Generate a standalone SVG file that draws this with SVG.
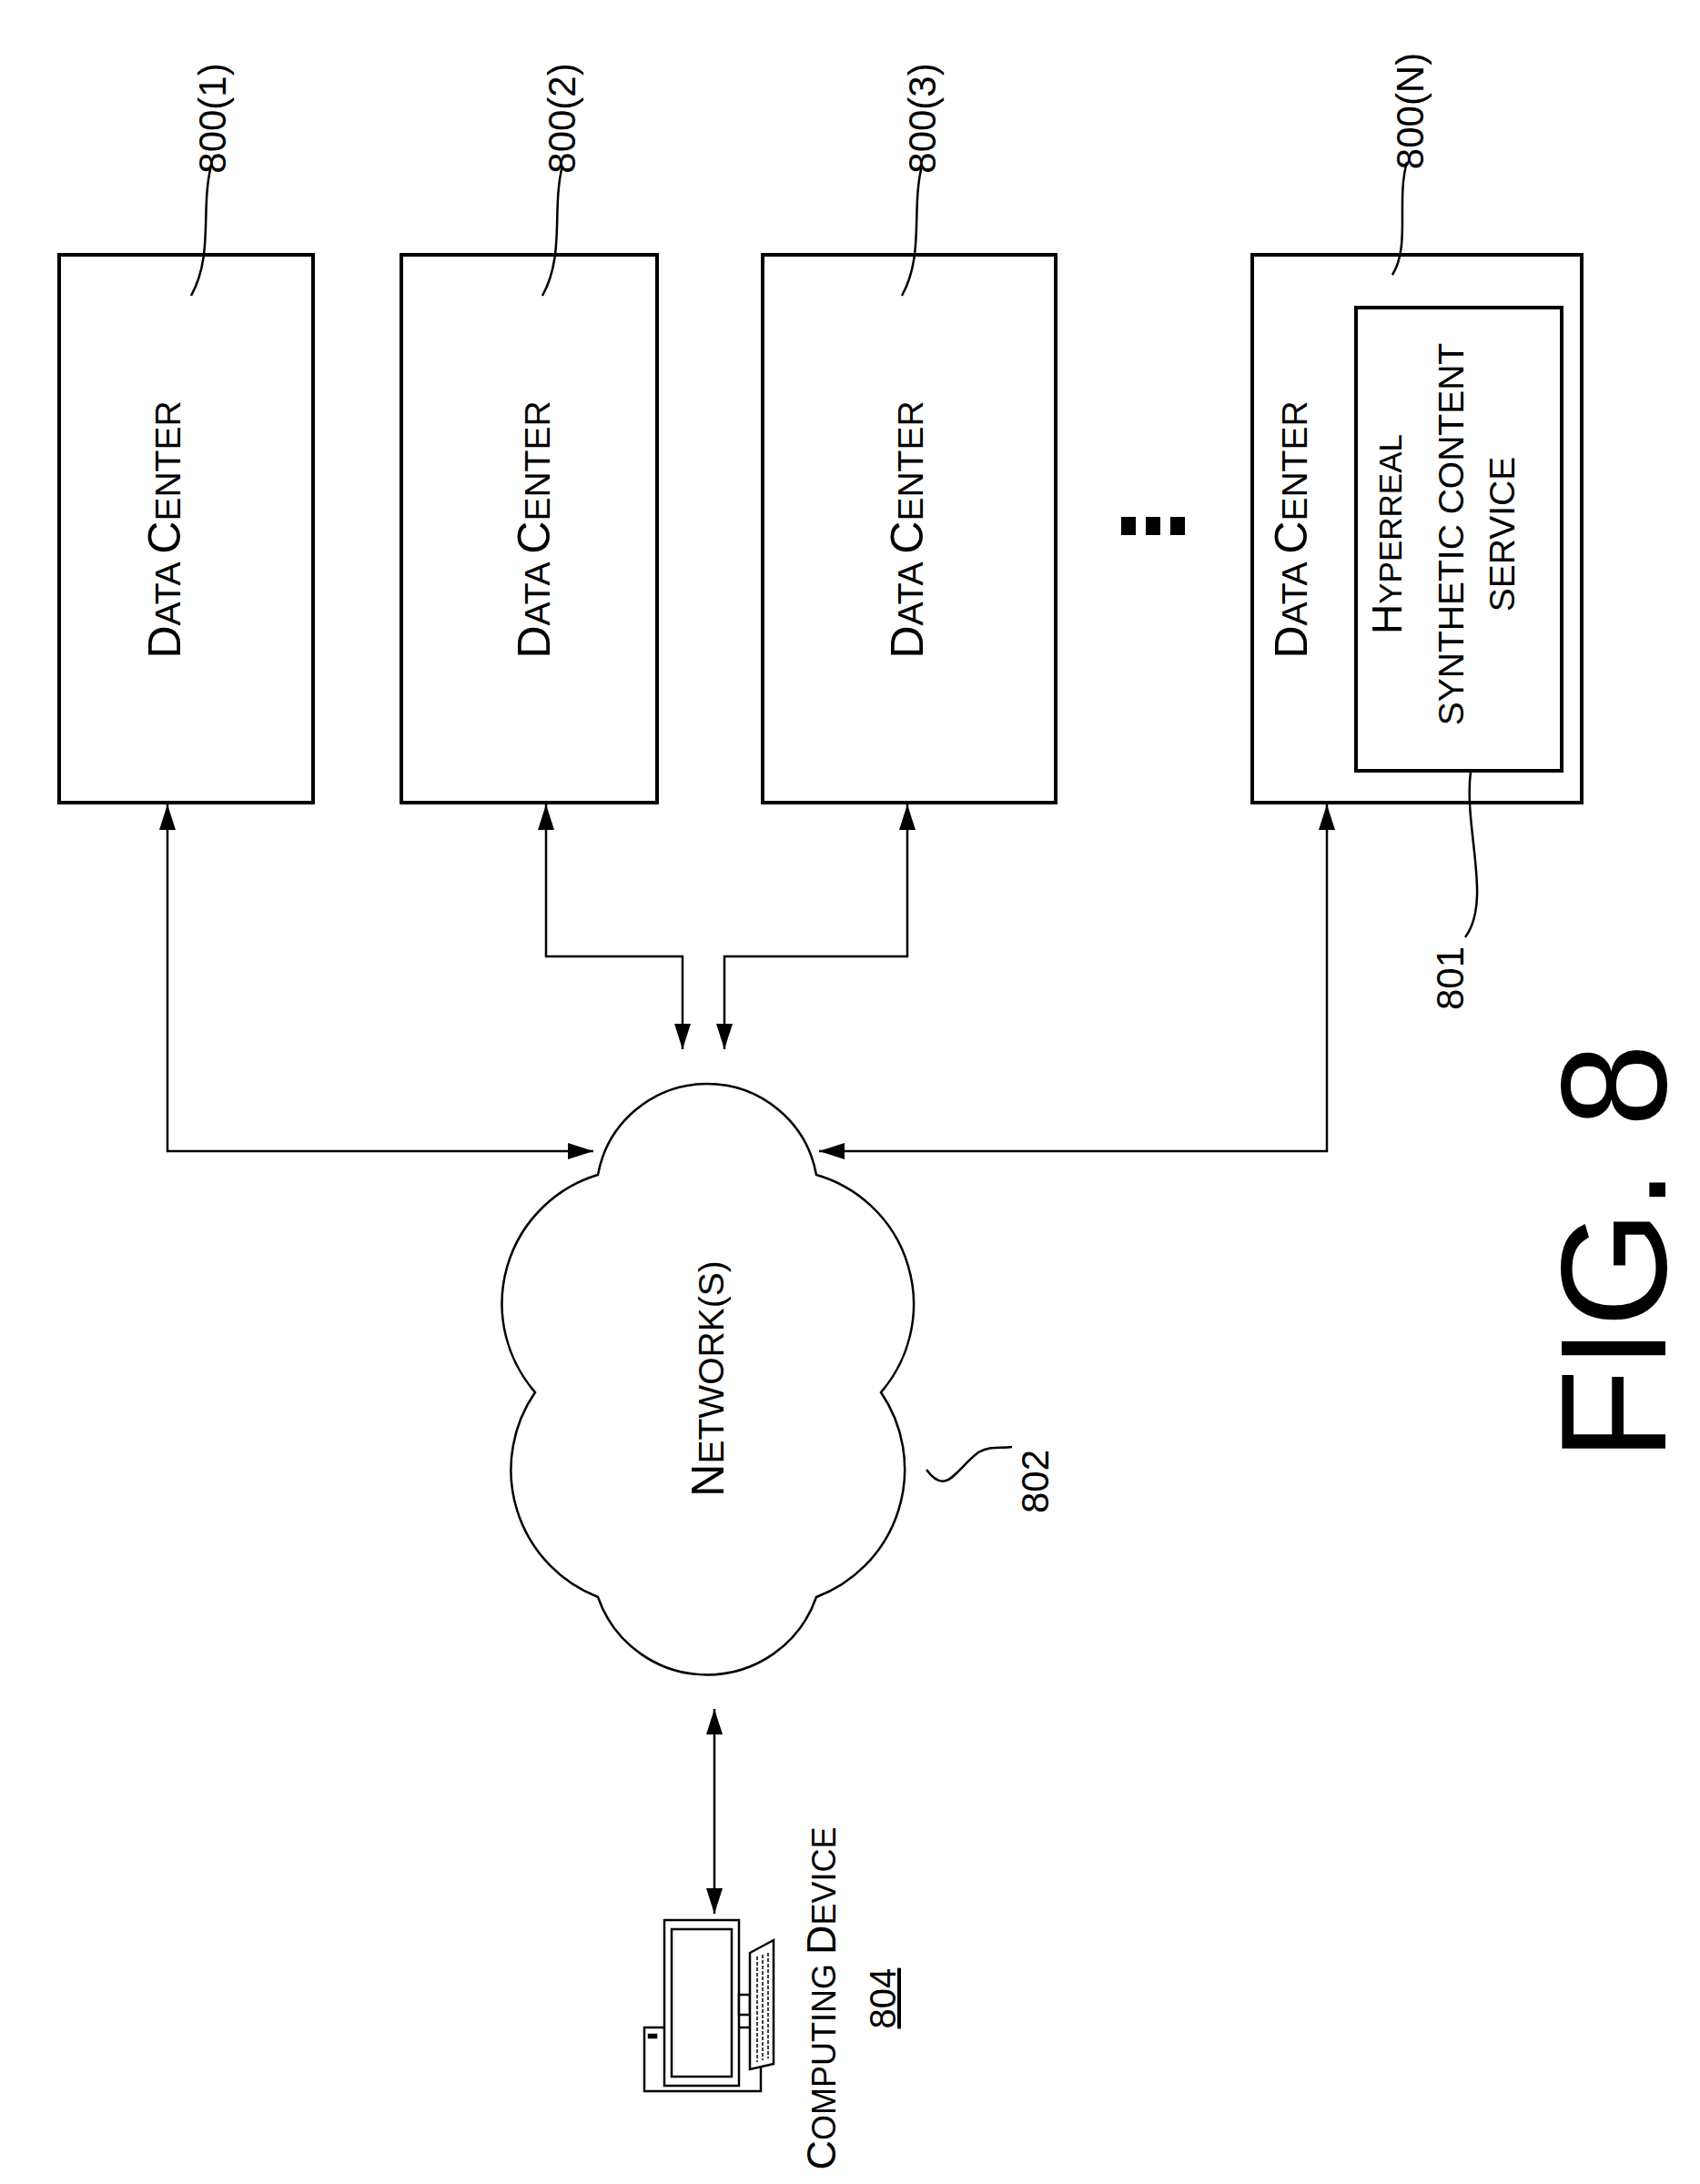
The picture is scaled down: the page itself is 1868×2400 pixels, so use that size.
<svg xmlns="http://www.w3.org/2000/svg" width="1868" height="2400" viewBox="0 0 1868 2400">
<defs>
<marker id="ah" viewBox="0 0 28 18" refX="28" refY="9" markerWidth="28" markerHeight="18" markerUnits="userSpaceOnUse" orient="auto-start-reverse"><path d="M0,0 L28,9 L0,18 z" fill="#000"/></marker>
<style>
.box{fill:#fff;stroke:#000;stroke-width:4}
.ln{fill:none;stroke:#000;stroke-width:2.5}
.t{font-family:"Liberation Sans",Arial,sans-serif;fill:#000;text-anchor:middle}
.big{font-size:50px}
.sm{font-size:39px}
.num{font-size:42px}
</style>
</defs>
<rect width="1868" height="2400" fill="#fff"/>
<g id="dc1"><rect class="box" x="65" y="280" width="279" height="602"/>
<text class="t" transform="translate(198,582) rotate(-90)"><tspan class="big">D</tspan><tspan class="sm">ATA </tspan><tspan class="big">C</tspan><tspan class="sm">ENTER</tspan></text></g>
<g id="dc2"><rect class="box" x="441" y="280" width="281" height="602"/>
<text class="t" transform="translate(604,582) rotate(-90)"><tspan class="big">D</tspan><tspan class="sm">ATA </tspan><tspan class="big">C</tspan><tspan class="sm">ENTER</tspan></text></g>
<g id="dc3"><rect class="box" x="838" y="280" width="322" height="602"/>
<text class="t" transform="translate(1014,582) rotate(-90)"><tspan class="big">D</tspan><tspan class="sm">ATA </tspan><tspan class="big">C</tspan><tspan class="sm">ENTER</tspan></text></g>
<g id="dc4"><rect class="box" x="1376" y="280" width="362" height="602"/>
<text class="t" transform="translate(1436,582) rotate(-90)"><tspan class="big">D</tspan><tspan class="sm">ATA </tspan><tspan class="big">C</tspan><tspan class="sm">ENTER</tspan></text></g>
<g id="hscs"><rect class="box" x="1490" y="338" width="226" height="509"/>
<text class="t" transform="translate(1540,587) rotate(-90)"><tspan font-size="46">H</tspan><tspan font-size="35">YPERREAL</tspan></text>
<text class="t sm" transform="translate(1608,587) rotate(-90)">SYNTHETIC CONTENT</text>
<text class="t sm" transform="translate(1664,587) rotate(-90)">SERVICE</text></g>
<g id="ellipsis" fill="#000"><rect x="1232" y="568" width="16" height="20"/><rect x="1259" y="568" width="16" height="20"/><rect x="1286" y="568" width="16" height="20"/></g>
<g id="network">
<path class="box" style="stroke-width:2.5" d="M657,1291 A122,122 0 0 1 897,1291 A148,148 0 0 1 968,1530 A150,150 0 0 1 897,1755 A127,127 0 0 1 657,1755 A150,150 0 0 1 588,1530 A148,148 0 0 1 657,1291 Z"/>
<text class="t" transform="translate(795,1515) rotate(-90)"><tspan class="big">N</tspan><tspan class="sm">ETWORK(S)</tspan></text>
</g>
<g id="connectors">
<path class="ln" d="M184,884 V1265 H652" marker-start="url(#ah)" marker-end="url(#ah)"/>
<path class="ln" d="M600,884 V1051 H750 V1153" marker-start="url(#ah)" marker-end="url(#ah)"/>
<path class="ln" d="M997,884 V1051 H796 V1153" marker-start="url(#ah)" marker-end="url(#ah)"/>
<path class="ln" d="M1458,884 V1265 H900" marker-start="url(#ah)" marker-end="url(#ah)"/>
<path class="ln" d="M785,1878 V2103" marker-start="url(#ah)" marker-end="url(#ah)"/>
</g>
<g id="labels">
<text class="t num" transform="translate(248,130) rotate(-90)">800(1)</text>
<path class="ln" d="M232,182 C220,230 235,280 210,325"/>
<text class="t num" transform="translate(632,130) rotate(-90)">800(2)</text>
<path class="ln" d="M618,182 C606,230 621,280 596,325"/>
<text class="t num" transform="translate(1028,130) rotate(-90)">800(3)</text>
<path class="ln" d="M1013,182 C1001,230 1016,280 991,325"/>
<text class="t num" transform="translate(1564,122) rotate(-90)">800(N)</text>
<path class="ln" d="M1546,178 C1534,220 1550,270 1530,302"/>
<text class="t num" transform="translate(1608,1075) rotate(-90)">801</text>
<path class="ln" d="M1616,848 C1608,910 1640,990 1610,1030"/>
<text class="t num" transform="translate(1152,1628) rotate(-90)">802</text>
<path class="ln" d="M1018,1615 C1040,1645 1050,1615 1075,1596 C1090,1588 1100,1592 1112,1590"/>
</g>
<g id="computer" fill="#fff" stroke="#000" stroke-width="2.5">
<rect x="708" y="2228" width="128" height="70"/>
<rect x="713" y="2236" width="8" height="3" fill="#000"/>
<rect x="730" y="2110" width="82" height="182"/>
<rect x="738" y="2120" width="66" height="162"/>
<rect x="812" y="2192" width="12" height="22"/>
<path d="M824,2146 L850,2132 L850,2268 L824,2274 Z"/>
<path d="M832,2150 V2266 M838,2148 V2264 M844,2146 V2262" stroke-width="1.5" stroke-dasharray="4,2"/>
</g>
<g id="device-label">
<text class="t" transform="translate(918,2196) rotate(-90)"><tspan font-size="45">C</tspan><tspan font-size="36">OMPUTING </tspan><tspan font-size="45">D</tspan><tspan font-size="36">EVICE</tspan></text>
<text class="t" font-size="40" text-decoration="underline" transform="translate(984,2196) rotate(-90)">804</text>
</g>
<text class="t" font-size="165" transform="translate(1830,1376) rotate(-90)">FIG. 8</text>
</svg>
